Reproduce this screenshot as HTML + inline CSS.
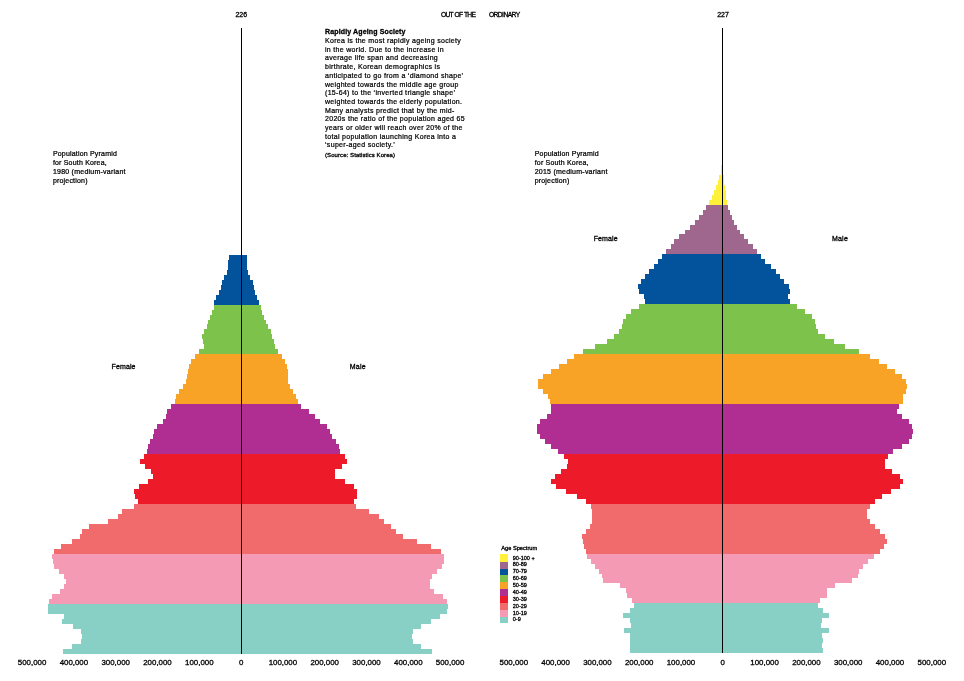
<!DOCTYPE html>
<html><head><meta charset="utf-8"><title>Rapidly Ageing Society</title>
<style>
html,body{margin:0;padding:0;background:#fff;}
body{width:964px;height:681px;overflow:hidden;}
svg{display:block;}
text{font-family:"Liberation Sans",Arial,Helvetica,sans-serif;fill:#000;white-space:pre;stroke:#000;stroke-width:0.3px;}
</style></head><body>
<svg width="964" height="681" viewBox="0 0 964 681">
<rect width="964" height="681" fill="#fff"/>
<g shape-rendering="crispEdges">
<path fill="#03539c" d="M247 255 L247 260 L247 260 L247 265 L247 265 L247 270 L248 270 L248 275 L250 275 L250 280 L253 280 L253 285 L254 285 L254 290 L255 290 L255 295 L257 295 L257 300 L259 300 L259 305 L214 305 L214 300 L216 300 L216 295 L219 295 L219 290 L221 290 L221 285 L222 285 L222 280 L224 280 L224 275 L227 275 L227 270 L228 270 L228 265 L228 265 L228 260 L229 260 L229 255Z"/>
<path fill="#7dc24b" d="M261 305 L261 310 L262 310 L262 315 L264 315 L264 320 L266 320 L266 324 L268 324 L268 329 L271 329 L271 334 L272 334 L272 339 L274 339 L274 344 L275 344 L275 349 L278 349 L278 354 L199 354 L199 349 L204 349 L204 344 L203 344 L203 339 L202 339 L202 334 L204 334 L204 329 L207 329 L207 324 L208 324 L208 320 L210 320 L210 315 L212 315 L212 310 L214 310 L214 305Z"/>
<path fill="#f9a326" d="M282 354 L282 359 L285 359 L285 364 L287 364 L287 369 L288 369 L288 374 L288 374 L288 379 L288 379 L288 384 L290 384 L290 389 L293 389 L293 394 L296 394 L296 399 L298 399 L298 404 L175 404 L175 399 L176 399 L176 394 L179 394 L179 389 L183 389 L183 384 L186 384 L186 379 L187 379 L187 374 L188 374 L188 369 L189 369 L189 364 L191 364 L191 359 L195 359 L195 354Z"/>
<path fill="#b02e91" d="M301 404 L301 409 L309 409 L309 414 L315 414 L315 419 L320 419 L320 424 L327 424 L327 429 L330 429 L330 434 L332 434 L332 439 L336 439 L336 444 L339 444 L339 449 L340 449 L340 454 L147 454 L147 449 L148 449 L148 444 L150 444 L150 439 L153 439 L153 434 L154 434 L154 429 L157 429 L157 424 L163 424 L163 419 L166 419 L166 414 L167 414 L167 409 L171 409 L171 404Z"/>
<path fill="#ed1b2a" d="M345 454 L345 459 L347 459 L347 464 L342 464 L342 469 L335 469 L335 474 L335 474 L335 479 L345 479 L345 484 L354 484 L354 489 L357 489 L357 494 L357 494 L357 499 L354 499 L354 504 L138 504 L138 499 L135 499 L135 494 L134 494 L134 489 L139 489 L139 484 L148 484 L148 479 L153 479 L153 474 L151 474 L151 469 L145 469 L145 464 L140 464 L140 459 L144 459 L144 454Z"/>
<path fill="#f26b6c" d="M356 504 L356 509 L369 509 L369 514 L379 514 L379 519 L384 519 L384 524 L391 524 L391 529 L396 529 L396 534 L403 534 L403 539 L417 539 L417 544 L431 544 L431 549 L441 549 L441 554 L54 554 L54 549 L61 549 L61 544 L72 544 L72 539 L80 539 L80 534 L82 534 L82 529 L89 529 L89 524 L108 524 L108 519 L118 519 L118 514 L122 514 L122 509 L134 509 L134 504Z"/>
<path fill="#f49ab5" d="M444 554 L444 559 L444 559 L444 564 L442 564 L442 569 L437 569 L437 574 L432 574 L432 579 L430 579 L430 584 L430 584 L430 589 L434 589 L434 594 L443 594 L443 599 L447 599 L447 604 L49 604 L49 599 L52 599 L52 594 L60 594 L60 589 L64 589 L64 584 L66 584 L66 579 L64 579 L64 574 L59 574 L59 569 L54 569 L54 564 L53 564 L53 559 L52 559 L52 554Z"/>
<path fill="#88cfc6" d="M448 604 L448 609 L447 609 L447 614 L440 614 L440 619 L431 619 L431 624 L421 624 L421 629 L413 629 L413 634 L412 634 L412 639 L413 639 L413 644 L421 644 L421 649 L432 649 L432 654 L63 654 L63 649 L72 649 L72 644 L81 644 L81 639 L82 639 L82 634 L81 634 L81 629 L73 629 L73 624 L62 624 L62 619 L64 619 L64 614 L48 614 L48 609 L48 609 L48 604Z"/>
<path fill="#fff13a" d="M723 155 L723 160 L723 160 L723 165 L723 165 L723 170 L723 170 L723 175 L724 175 L724 180 L724 180 L724 185 L725 185 L725 190 L726 190 L726 195 L726 195 L726 200 L727 200 L727 205 L709 205 L709 200 L712 200 L712 195 L714 195 L714 190 L716 190 L716 185 L718 185 L718 180 L719 180 L719 175 L721 175 L721 170 L721 170 L721 165 L722 165 L722 160 L722 160 L722 155Z"/>
<path fill="#a0678e" d="M728 205 L728 210 L730 210 L730 215 L732 215 L732 220 L734 220 L734 225 L737 225 L737 230 L740 230 L740 234 L744 234 L744 239 L748 239 L748 244 L753 244 L753 249 L757 249 L757 254 L666 254 L666 249 L671 249 L671 244 L674 244 L674 239 L679 239 L679 234 L685 234 L685 230 L690 230 L690 225 L695 225 L695 220 L699 220 L699 215 L703 215 L703 210 L706 210 L706 205Z"/>
<path fill="#03539c" d="M761 254 L761 259 L765 259 L765 264 L771 264 L771 269 L776 269 L776 274 L780 274 L780 279 L784 279 L784 284 L789 284 L789 289 L790 289 L790 294 L788 294 L788 299 L790 299 L790 304 L645 304 L645 299 L644 299 L644 294 L639 294 L639 289 L638 289 L638 284 L641 284 L641 279 L645 279 L645 274 L649 274 L649 269 L654 269 L654 264 L658 264 L658 259 L662 259 L662 254Z"/>
<path fill="#7dc24b" d="M797 304 L797 309 L805 309 L805 314 L812 314 L812 319 L815 319 L815 324 L816 324 L816 329 L818 329 L818 334 L825 334 L825 339 L834 339 L834 344 L845 344 L845 349 L859 349 L859 354 L583 354 L583 349 L595 349 L595 344 L607 344 L607 339 L614 339 L614 334 L619 334 L619 329 L622 329 L622 324 L623 324 L623 319 L626 319 L626 314 L631 314 L631 309 L639 309 L639 304Z"/>
<path fill="#f9a326" d="M870 354 L870 359 L879 359 L879 364 L887 364 L887 369 L895 369 L895 374 L902 374 L902 379 L906 379 L906 384 L907 384 L907 389 L906 389 L906 394 L903 394 L903 399 L903 399 L903 404 L550 404 L550 399 L548 399 L548 394 L543 394 L543 389 L538 389 L538 384 L538 384 L538 379 L543 379 L543 374 L551 374 L551 369 L559 369 L559 364 L567 364 L567 359 L574 359 L574 354Z"/>
<path fill="#b02e91" d="M899 404 L899 409 L897 409 L897 414 L902 414 L902 419 L909 419 L909 424 L912 424 L912 429 L913 429 L913 434 L912 434 L912 439 L909 439 L909 444 L902 444 L902 449 L893 449 L893 454 L558 454 L558 449 L551 449 L551 444 L545 444 L545 439 L540 439 L540 434 L537 434 L537 429 L537 429 L537 424 L540 424 L540 419 L547 419 L547 414 L551 414 L551 409 L551 409 L551 404Z"/>
<path fill="#ed1b2a" d="M888 454 L888 459 L885 459 L885 464 L885 464 L885 469 L892 469 L892 474 L900 474 L900 479 L903 479 L903 484 L900 484 L900 489 L891 489 L891 494 L882 494 L882 499 L875 499 L875 504 L586 504 L586 499 L577 499 L577 494 L566 494 L566 489 L556 489 L556 484 L551 484 L551 479 L555 479 L555 474 L561 474 L561 469 L567 469 L567 464 L568 464 L568 459 L564 459 L564 454Z"/>
<path fill="#f26b6c" d="M870 504 L870 509 L867 509 L867 514 L867 514 L867 519 L870 519 L870 524 L875 524 L875 529 L880 529 L880 534 L885 534 L885 539 L887 539 L887 544 L884 544 L884 549 L880 549 L880 554 L586 554 L586 549 L584 549 L584 544 L583 544 L583 539 L582 539 L582 534 L586 534 L586 529 L590 529 L590 524 L592 524 L592 519 L592 519 L592 514 L592 514 L592 509 L591 509 L591 504Z"/>
<path fill="#f49ab5" d="M874 554 L874 559 L868 559 L868 564 L863 564 L863 569 L859 569 L859 574 L858 574 L858 578 L852 578 L852 583 L835 583 L835 588 L827 588 L827 593 L827 593 L827 598 L820 598 L820 603 L632 603 L632 598 L627 598 L627 593 L626 593 L626 588 L620 588 L620 583 L603 583 L603 578 L602 578 L602 574 L599 574 L599 569 L595 569 L595 564 L591 564 L591 559 L587 559 L587 554Z"/>
<path fill="#88cfc6" d="M818 603 L818 608 L823 608 L823 613 L829 613 L829 618 L822 618 L822 623 L821 623 L821 628 L829 628 L829 633 L822 633 L822 638 L823 638 L823 643 L822 643 L822 648 L823 648 L823 653 L630 653 L630 648 L630 648 L630 643 L630 643 L630 638 L630 638 L630 633 L624 633 L624 628 L631 628 L631 623 L630 623 L630 618 L623 618 L623 613 L630 613 L630 608 L634 608 L634 603Z"/>
<rect x="500" y="554" width="8" height="8" fill="#fff13a"/>
<rect x="500" y="562" width="8" height="7" fill="#a0678e"/>
<rect x="500" y="569" width="8" height="6" fill="#03539c"/>
<rect x="500" y="575" width="8" height="7" fill="#7dc24b"/>
<rect x="500" y="582" width="8" height="7" fill="#f9a326"/>
<rect x="500" y="589" width="8" height="7" fill="#b02e91"/>
<rect x="500" y="596" width="8" height="7" fill="#ed1b2a"/>
<rect x="500" y="603" width="8" height="7" fill="#f26b6c"/>
<rect x="500" y="610" width="8" height="7" fill="#f49ab5"/>
<rect x="500" y="617" width="8" height="6" fill="#88cfc6"/>
</g>
<rect x="241" y="28" width="1" height="626" fill="#000"/>
<rect x="722" y="28" width="1" height="625" fill="#000"/>
<g>
<text x="512.8" y="559.5" style="font-size:5.5px;">90-100 +</text>
<text x="512.8" y="566.4" style="font-size:5.5px;">80-89</text>
<text x="512.8" y="573.2" style="font-size:5.5px;">70-79</text>
<text x="512.8" y="580.1" style="font-size:5.5px;">60-69</text>
<text x="512.8" y="587" style="font-size:5.5px;">50-59</text>
<text x="512.8" y="593.9" style="font-size:5.5px;">40-49</text>
<text x="512.8" y="600.7" style="font-size:5.5px;">30-39</text>
<text x="512.8" y="607.6" style="font-size:5.5px;">20-29</text>
<text x="512.8" y="614.5" style="font-size:5.5px;">10-19</text>
<text x="512.8" y="621.3" style="font-size:5.5px;">0-9</text>
<text x="501.2" y="549.8" style="font-size:5.7px;">Age Spectrum</text>
<text x="32.1" y="665.2" text-anchor="middle" style="font-size:7.9px;">500,000</text>
<text x="73.9" y="665.2" text-anchor="middle" style="font-size:7.9px;">400,000</text>
<text x="115.7" y="665.2" text-anchor="middle" style="font-size:7.9px;">300,000</text>
<text x="157.5" y="665.2" text-anchor="middle" style="font-size:7.9px;">200,000</text>
<text x="199.3" y="665.2" text-anchor="middle" style="font-size:7.9px;">100,000</text>
<text x="241.1" y="665.2" text-anchor="middle" style="font-size:7.9px;">0</text>
<text x="282.9" y="665.2" text-anchor="middle" style="font-size:7.9px;">100,000</text>
<text x="324.7" y="665.2" text-anchor="middle" style="font-size:7.9px;">200,000</text>
<text x="366.5" y="665.2" text-anchor="middle" style="font-size:7.9px;">300,000</text>
<text x="408.3" y="665.2" text-anchor="middle" style="font-size:7.9px;">400,000</text>
<text x="450.1" y="665.2" text-anchor="middle" style="font-size:7.9px;">500,000</text>
<text x="513.8" y="665.2" text-anchor="middle" style="font-size:7.9px;">500,000</text>
<text x="555.6" y="665.2" text-anchor="middle" style="font-size:7.9px;">400,000</text>
<text x="597.4" y="665.2" text-anchor="middle" style="font-size:7.9px;">300,000</text>
<text x="639.2" y="665.2" text-anchor="middle" style="font-size:7.9px;">200,000</text>
<text x="681" y="665.2" text-anchor="middle" style="font-size:7.9px;">100,000</text>
<text x="722.8" y="665.2" text-anchor="middle" style="font-size:7.9px;">0</text>
<text x="764.6" y="665.2" text-anchor="middle" style="font-size:7.9px;">100,000</text>
<text x="806.4" y="665.2" text-anchor="middle" style="font-size:7.9px;">200,000</text>
<text x="848.2" y="665.2" text-anchor="middle" style="font-size:7.9px;">300,000</text>
<text x="890" y="665.2" text-anchor="middle" style="font-size:7.9px;">400,000</text>
<text x="931.8" y="665.2" text-anchor="middle" style="font-size:7.9px;">500,000</text>
<text x="241.3" y="16.9" text-anchor="middle" style="font-size:7px;">226</text>
<text x="723" y="16.9" text-anchor="middle" style="font-size:7px;">227</text>
<text x="441" y="16.9" style="font-size:6.7px;letter-spacing:-0.8px;word-spacing:0.9px;">OUT OF THE</text>
<text x="488.9" y="16.9" style="font-size:6.7px;letter-spacing:-0.55px;">ORDINARY</text>
<text x="111.6" y="369" style="font-size:7px;letter-spacing:0.1px;">Female</text>
<text x="349.8" y="369" style="font-size:7px;letter-spacing:0.2px;">Male</text>
<text x="593.7" y="240.8" style="font-size:7px;letter-spacing:0.1px;">Female</text>
<text x="832" y="240.8" style="font-size:7px;letter-spacing:0.2px;">Male</text>
<text x="52.9" y="156" style="font-size:7px;letter-spacing:0.19px;stroke-width:0.24px;">Population Pyramid</text>
<text x="52.9" y="165" style="font-size:7px;letter-spacing:0.19px;stroke-width:0.24px;">for South Korea,</text>
<text x="52.9" y="174" style="font-size:7px;letter-spacing:0.24px;stroke-width:0.24px;">1980 (medium-variant</text>
<text x="52.9" y="182.6" style="font-size:7px;letter-spacing:0.19px;stroke-width:0.24px;">projection)</text>
<text x="534.7" y="156" style="font-size:7px;letter-spacing:0.19px;stroke-width:0.24px;">Population Pyramid</text>
<text x="534.7" y="165" style="font-size:7px;letter-spacing:0.19px;stroke-width:0.24px;">for South Korea,</text>
<text x="534.7" y="174" style="font-size:7px;letter-spacing:0.24px;stroke-width:0.24px;">2015 (medium-variant</text>
<text x="534.7" y="182.6" style="font-size:7px;letter-spacing:0.19px;stroke-width:0.24px;">projection)</text>
<text x="325" y="33.7" style="font-size:7px;letter-spacing:0.14px;font-weight:bold;">Rapidly Ageing Society</text>
<text x="325" y="43" style="font-size:7px;letter-spacing:0.31px;stroke-width:0.22px;">Korea is the most rapidly ageing society</text>
<text x="325" y="51.7" style="font-size:7px;letter-spacing:0.31px;stroke-width:0.22px;">in the world. Due to the increase in</text>
<text x="325" y="60.4" style="font-size:7px;letter-spacing:0.31px;stroke-width:0.22px;">average life span and decreasing</text>
<text x="325" y="69.1" style="font-size:7px;letter-spacing:0.31px;stroke-width:0.22px;">birthrate, Korean demographics is</text>
<text x="325" y="77.8" style="font-size:7px;letter-spacing:0.31px;stroke-width:0.22px;">anticipated to go from a ‘diamond shape’</text>
<text x="325" y="86.5" style="font-size:7px;letter-spacing:0.31px;stroke-width:0.22px;">weighted towards the middle age group</text>
<text x="325" y="95.2" style="font-size:7px;letter-spacing:0.31px;stroke-width:0.22px;">(15-64) to the ‘inverted triangle shape’</text>
<text x="325" y="103.9" style="font-size:7px;letter-spacing:0.31px;stroke-width:0.22px;">weighted towards the elderly population.</text>
<text x="325" y="112.6" style="font-size:7px;letter-spacing:0.31px;stroke-width:0.22px;">Many analysts predict that by the mid-</text>
<text x="325" y="121.3" style="font-size:7px;letter-spacing:0.31px;stroke-width:0.22px;">2020s the ratio of the population aged 65</text>
<text x="325" y="130" style="font-size:7px;letter-spacing:0.31px;stroke-width:0.22px;">years or older will reach over 20% of the</text>
<text x="325" y="138.7" style="font-size:7px;letter-spacing:0.31px;stroke-width:0.22px;">total population launching Korea into a</text>
<text x="325" y="147.4" style="font-size:7px;letter-spacing:0.31px;stroke-width:0.22px;">‘super-aged society.’</text>
<text x="325" y="156.6" style="font-size:6px;letter-spacing:0.08px;">(Source: Statistics Korea)</text>
</g>
</svg>
</body></html>
